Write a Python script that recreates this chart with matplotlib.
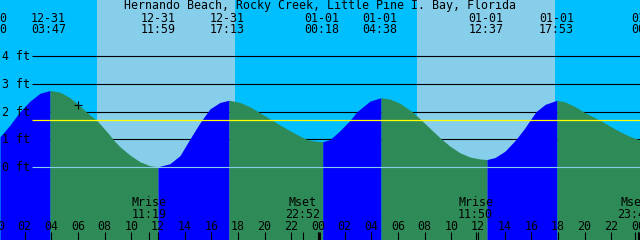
import matplotlib
matplotlib.use("Agg")
import matplotlib.pyplot as plt
import numpy as np

title = "Hernando Beach, Rocky Creek, Little Pine I. Bay, Florida"

# tide curve: hours since 12-31 00:00, height in ft
hours = [0.15, 0.90, 1.65, 2.40, 3.15, 3.90, 4.65, 5.40, 6.15, 6.60, 6.90, 7.40,
         7.65, 8.40, 8.63, 9.15, 9.90, 10.65, 11.40, 12.00, 12.90, 13.65, 14.40,
         15.15, 15.90, 16.65, 17.33, 18.15, 18.91, 19.51, 20.40, 21.16, 21.91,
         22.66, 23.18, 23.78, 24.36, 24.91, 25.66, 26.41, 26.93, 27.91, 28.73,
         29.41, 30.16, 31.06, 31.66, 32.41, 33.16, 33.91, 34.66, 35.41, 36.16,
         36.68, 37.28, 38.03, 38.86, 39.53, 39.91, 40.36, 41.04, 41.93, 42.54,
         43.29, 44.04, 44.79, 45.16, 45.91, 46.66, 47.41, 48.16]
feet = [1.10, 1.52, 2.00, 2.38, 2.66, 2.76, 2.70, 2.50, 2.20, 2.00, 1.88, 1.69,
        1.56, 1.15, 1.00, 0.74, 0.44, 0.20, 0.06, 0.02, 0.13, 0.42, 1.02,
        1.60, 2.10, 2.33, 2.41, 2.33, 2.17, 2.00, 1.74, 1.52, 1.31,
        1.12, 1.00, 0.94, 0.92, 1.00, 1.32, 1.69, 2.00, 2.38, 2.50,
        2.45, 2.30, 2.00, 1.74, 1.40, 1.06, 0.76, 0.52, 0.37, 0.30,
        0.28, 0.35, 0.58, 1.00, 1.42, 1.69, 2.00, 2.26, 2.41, 2.35,
        2.18, 1.96, 1.78, 1.69, 1.48, 1.28, 1.11, 0.98]

# high / low tide labels along the top
event_hours = [-0.62, 3.78, 11.98, 17.22, 24.30, 28.63, 36.62, 41.88, 48.83]
event_dates = ["12-30", "12-31", "12-31", "12-31", "01-01", "01-01", "01-01", "01-01", "01-02"]
event_times = ["23:50", "03:47", "11:59", "17:13", "00:18", "04:38", "12:37", "17:53", "00:50"]

# moon rise / set along the bottom
moon_hours = [11.32, 22.87, 35.83, 47.78]
moon_names = ["Mrise", "Mset", "Mrise", "Mset"]
moon_times = ["11:19", "22:52", "11:50", "23:47"]

daylight = [(7.40, 17.78), (31.41, 41.79)]
ft_levels = [1, 2, 3, 4]
mark_level = 1.69
now_hour, now_ft = 6.0, 2.24
midnights = [24, 48]

W, H = 640, 240
x_lo, x_hi = 0.15, 48.16
y_lo, y_hi = -2.61, 6.01

night_col = "#00BFFF"
day_col = "#87CEEB"
rise_col = "#0000FF"
fall_col = "#2E8B57"
mono = "DejaVu Sans Mono"
fs = 8.4

fig = plt.figure(figsize=(6.4, 2.4), dpi=100)
ax = fig.add_axes([0, 0, 1, 1])
ax.set_xlim(x_lo, x_hi)
ax.set_ylim(y_lo, y_hi)
ax.axis("off")
ax.add_patch(plt.Rectangle((0, 0), 1, 1, transform=ax.transAxes, color=night_col, zorder=0))
for a, b in daylight:
    ax.axvspan(a, b, color=day_col, lw=0, zorder=0.5)


def yfrac(px):
    return 1 - px / H


def hour_at(px):
    return x_lo + px / W * (x_hi - x_lo)


# grid lines sit behind the water
ax.hlines(ft_levels, hour_at(32), x_hi, color="black", lw=0.8, zorder=1)

# water: blue while rising, green while falling
h = np.array(hours)
f = np.array(feet)
d = np.sign(np.diff(f))
breaks = [0] + [i + 1 for i in range(len(d) - 1) if d[i] != d[i + 1]] + [len(f) - 1]
for s, e in zip(breaks[:-1], breaks[1:]):
    col = rise_col if f[e] > f[s] else fall_col
    ax.fill_between(h[s:e + 1], f[s:e + 1], y_lo, color=col, lw=0, zorder=2)

ax.hlines([0], hour_at(32), x_hi, color=day_col, lw=0.8, zorder=3)
ax.hlines([mark_level], hour_at(32), x_hi, color="#FFFF00", lw=0.9, zorder=3)
ax.plot([now_hour], [now_ft], marker="+", color="black", ms=6, mew=0.8, zorder=4)

for lv in [0] + ft_levels:
    ax.text(2 / W, lv - 4 / 27.83, f"{lv} ft", transform=ax.get_yaxis_transform(),
            ha="left", va="baseline", family=mono, fontsize=fs, zorder=5)

xt = ax.get_xaxis_transform()
fig.text(0.5, yfrac(9.3), title, ha="center", va="baseline", family=mono, fontsize=fs)
for eh, ed, et in zip(event_hours, event_dates, event_times):
    ax.text(eh, yfrac(21.7), ed, transform=xt, ha="center", va="baseline",
            family=mono, fontsize=fs, clip_on=False)
    ax.text(eh, yfrac(33.3), et, transform=xt, ha="center", va="baseline",
            family=mono, fontsize=fs, clip_on=False)

for mh, mn, mt in zip(moon_hours, moon_names, moon_times):
    ax.text(mh, yfrac(206), mn, transform=xt, ha="center", va="baseline",
            family=mono, fontsize=fs, zorder=5)
    ax.text(mh, yfrac(218.3), mt, transform=xt, ha="center", va="baseline",
            family=mono, fontsize=fs, zorder=5)

tick_hours = np.arange(0, 49, 2)
for th in tick_hours:
    ax.text(th, yfrac(229.7), f"{th % 24:02d}", transform=xt, ha="center",
            va="baseline", family=mono, fontsize=fs, zorder=5)
ax.vlines(list(tick_hours) + moon_hours, 0, 8 / H, transform=xt, color="black",
          lw=0.8, zorder=5)
ax.vlines([m + 0.1 for m in midnights], 0, 8 / H, transform=xt, color="black",
          lw=2.2, zorder=5)

fig.savefig("out.png", dpi=100)
